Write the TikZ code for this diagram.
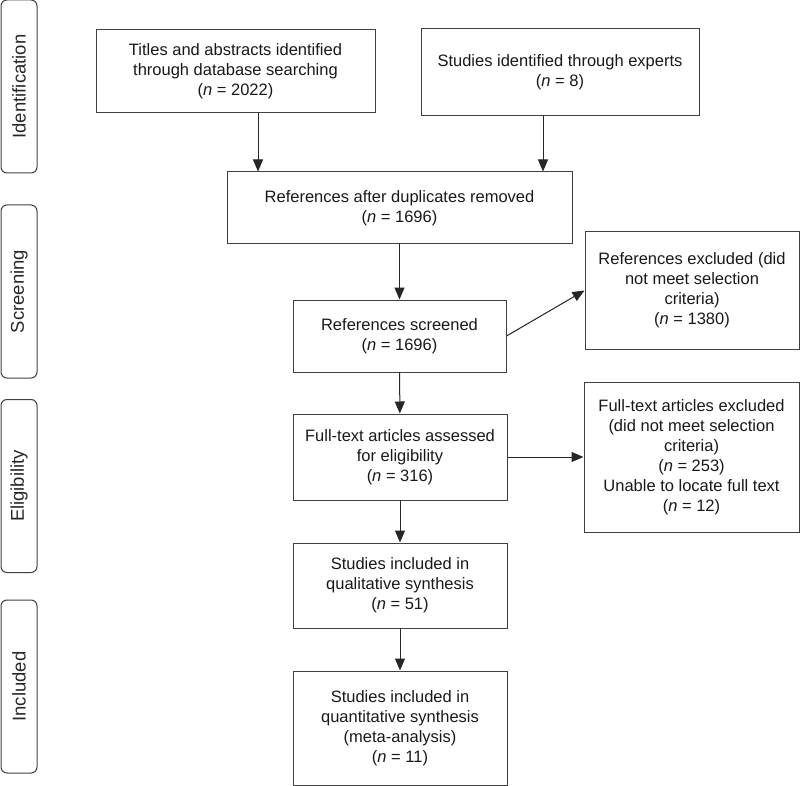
\documentclass[tikz,border=0pt]{standalone}
\usepackage{fontspec}
\setmainfont{Liberation Sans}
\usetikzlibrary{arrows.meta}
\tikzstyle{box} = [rectangle, draw=black!75, line width=1pt, text=black!90, align=center, inner sep=0pt, font=\fontsize{16.5}{20}\selectfont]
\tikzstyle{stage} = [rectangle, rounded corners=6pt, draw=black!75, line width=1pt, text=black!85, inner sep=0pt, rotate=90, minimum width=173pt, minimum height=36pt, font=\fontsize{18.5}{22}\selectfont]
\tikzstyle{arrow} = [line width=1pt, black!85, -{Triangle[length=12pt,width=10pt]}]

\begin{document}
\begin{tikzpicture}[x=1pt,y=-1pt]
\useasboundingbox (0,0) rectangle (800,786);

% stages on the left
\node[stage] (ident) at (19,86.5) {Identification};
\node[stage] (screen) at (19,291.5) {Screening};
\node[stage] (elig) at (19,486) {Eligibility};
\node[stage] (incl) at (19,686.5) {Included};

% flow boxes
\node[box, minimum width=279pt, minimum height=83pt] (titles) at (235.5,71.5) {Titles and abstracts identified\\through database searching\\(\textit{n} = 2022)};
\node[box, minimum width=278pt, minimum height=87pt] (experts) at (560,72.5) {Studies identified through experts\\(\textit{n} = 8)};
\node[box, minimum width=345pt, minimum height=72pt] (dups) at (399.5,208) {References after duplicates removed\\(\textit{n} = 1696)};
\node[box, minimum width=213pt, minimum height=72pt] (screened) at (399.5,336) {References screened\\(\textit{n} = 1696)};
\node[box, minimum width=214pt, minimum height=117pt] (excl1) at (692,290.5) {References excluded (did\\not meet selection\\criteria)\\(\textit{n} = 1380)};
\node[box, minimum width=214pt, minimum height=86pt] (fulltext) at (400,457) {Full-text articles assessed\\for eligibility\\(\textit{n} = 316)};
\node[box, minimum width=215pt, minimum height=150pt] (excl2) at (691.5,457) {Full-text articles excluded\\(did not meet selection\\criteria)\\(\textit{n} = 253)\\Unable to locate full text\\(\textit{n} = 12)};
\node[box, minimum width=214pt, minimum height=85pt] (qual) at (400,585.5) {Studies included in\\qualitative synthesis\\(\textit{n} = 51)};
\node[box, minimum width=214pt, minimum height=114pt] (quant) at (400,728) {Studies included in\\quantitative synthesis\\(meta-analysis)\\(\textit{n} = 11)};

% arrows
\draw[arrow] ([xshift=22.5pt]titles.south) -- ([xshift=22.5pt]titles.south |- dups.north);
\draw[arrow] ([xshift=-17pt]experts.south) -- ([xshift=-17pt]experts.south |- dups.north);
\draw[arrow] (dups) -- (screened);
\draw[arrow] (screened.east) -- (excl1.west);
\draw[arrow] (screened) -- (fulltext);
\draw[arrow] (fulltext.east) -- (excl2.west);
\draw[arrow] (fulltext) -- (qual);
\draw[arrow] (qual) -- (quant);
\end{tikzpicture}
\end{document}
